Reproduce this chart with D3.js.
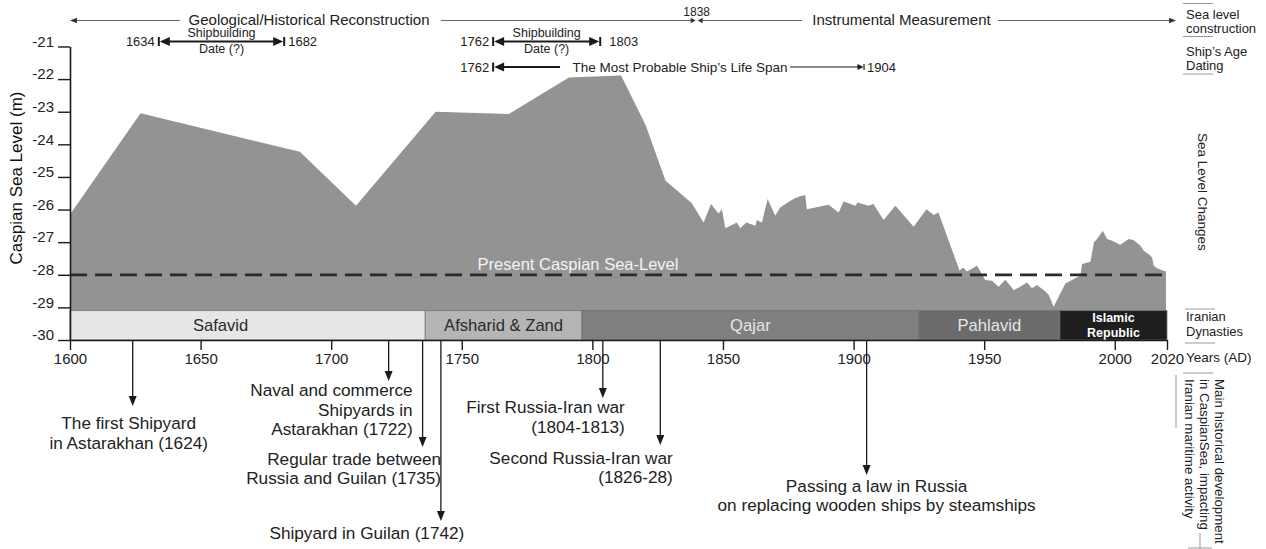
<!DOCTYPE html>
<html><head><meta charset="utf-8">
<script src="https://cdn.jsdelivr.net/npm/d3@7"></script>
<style>
body{margin:0;background:#fff}
svg{display:block;font-family:"Liberation Sans",Arial,Helvetica,sans-serif}
</style>
</head><body>
<svg id="c" width="1266" height="549"></svg>
<script>
// ---------------- DATA ----------------
const years = [1600,1627,1688,1709.5,1740,1768,1791,1811,1820.5,1828,1838,1842.6,1845.4,1848.3,1849.6,1850.9,1855.3,1856.6,1858.9,1862.4,1863,1864.9,1867.1,1870,1871.9,1874.5,1877,1878.9,1881.5,1882.1,1890.4,1894.3,1896.2,1900.7,1901.5,1905.7,1907.6,1911.5,1916,1923,1927.9,1930.7,1932.5,1940.6,1941.9,1943.4,1947.3,1950.4,1953,1955.5,1958.1,1961.3,1963.8,1966.4,1968.3,1970.2,1972.8,1974.7,1976.6,1981.1,1984.3,1986.8,1987.5,1990.7,1992,1993.2,1995.4,1997.1,1999,2002.1,2005.3,2007.2,2009.8,2011.1,2013,2014.3,2014.9,2016.2,2018.1,2019.6];
const levels = [-26.15,-23.05,-24.23,-25.88,-23.0,-23.07,-21.95,-21.89,-23.43,-25.12,-25.8,-26.4,-25.83,-26.12,-25.99,-26.57,-26.4,-26.57,-26.4,-26.5,-26.32,-26.4,-25.68,-26.19,-25.94,-25.8,-25.68,-25.61,-25.55,-25.99,-25.85,-26.09,-25.75,-25.88,-25.78,-25.88,-25.83,-26.32,-25.88,-26.53,-25.99,-26.17,-26.09,-27.88,-27.78,-27.9,-27.72,-28.16,-28.18,-28.37,-28.15,-28.47,-28.37,-28.24,-28.41,-28.31,-28.47,-28.61,-28.98,-28.27,-28.13,-28.03,-27.67,-27.6,-27.01,-26.9,-26.65,-26.9,-26.96,-27.08,-26.9,-26.93,-27.11,-27.26,-27.37,-27.47,-27.72,-27.8,-27.86,-27.9];
const presentLevel = -28;
const baseLevel = -29.1;
const yTicks = [-21,-22,-23,-24,-25,-26,-27,-28,-29,-30];
const xTicks = [1600,1650,1700,1750,1800,1850,1900,1950,2000,2020];
const dynastyNames = ["Safavid","Afsharid & Zand","Qajar","Pahlavid","Islamic Republic"];
const dynastyStart = [1600,1736,1796,1925,1979];
const dynastyEnd = [1736,1796,1925,1979,2020];
const eventYears = [1624,1722,1735,1742,1804,1826,1905];
const eventLabels = [
  ["The first Shipyard","in Astarakhan (1624)"],
  ["Naval and commerce","Shipyards in","Astarakhan (1722)"],
  ["Regular trade between","Russia and Guilan (1735)"],
  ["Shipyard in Guilan (1742)"],
  ["First Russia-Iran war","(1804-1813)"],
  ["Second Russia-Iran war","(1826-28)"],
  ["Passing a law in Russia","on replacing wooden ships by steamships"]
];
const shipbuildStart = [1634,1762];
const shipbuildEnd = [1682,1803];
const lifeSpan = [1762,1904];
const instrumentalStart = 1838;

// ---------------- STYLE / LAYOUT ----------------
const svg = d3.select("#c");
const x = d3.scaleLinear().domain([1600,2020]).range([70,1167]);
const y = d3.scaleLinear().domain([-30,-21]).range([340,46.5]);
const ink = "#1a1a1a";
const dynFill = ["#e6e6e6","#b5b5b5","#7f7f7f","#6b6b6b","#1e1e1e"];
const dynText = ["#2a2a2a","#2a2a2a","#e6e6e6","#e6e6e6","#ffffff"];

// sea level area
const seaData = years.map((yr,i)=>({yr, lv: levels[i]}));
svg.append("path").datum(seaData)
  .attr("d", d3.area().x(d=>x(d.yr)).y0(y(baseLevel)).y1(d=>y(d.lv)))
  .attr("fill","#939393");

// dynasty bar
const dyn = svg.append("g");
dynastyNames.forEach((n,i)=>{
  dyn.append("rect").attr("x",x(dynastyStart[i])).attr("y",y(baseLevel))
    .attr("width",x(dynastyEnd[i])-x(dynastyStart[i])).attr("height",y(-30)-y(baseLevel))
    .attr("fill",dynFill[i]).attr("stroke","#707070").attr("stroke-width",0.8);
});
const dynLabelShift = [-27,0,0,0,0];
const yBarMid = (y(baseLevel)+y(-30))/2;
dynastyNames.forEach((n,i)=>{
  const cx = (x(dynastyStart[i])+x(dynastyEnd[i]))/2 + dynLabelShift[i];
  if (i===4){
    const t = dyn.append("text").attr("x",cx).attr("text-anchor","middle")
      .attr("font-size",12.5).attr("font-weight","bold").attr("fill",dynText[i]);
    n.split(" ").forEach((w,k)=>t.append("tspan").attr("x",cx).attr("y",yBarMid-3+k*14.5).text(w));
  } else {
    dyn.append("text").attr("x",cx).attr("y",yBarMid+5.5).attr("text-anchor","middle")
      .attr("font-size",16.6).attr("fill",dynText[i]).text(n);
  }
});

// present sea level dashed line
svg.append("line").attr("x1",x(1600)).attr("x2",x(2020)+1).attr("y1",y(presentLevel)).attr("y2",y(presentLevel))
  .attr("stroke","#2b2b2b").attr("stroke-width",2.8).attr("stroke-dasharray","17,8");
svg.append("text").attr("x",578).attr("y",y(presentLevel)-5).attr("text-anchor","middle")
  .attr("font-size",16.5).attr("fill","#f4f4f4").text("Present Caspian Sea-Level");

// y axis
const yAxis = svg.append("g").attr("transform",`translate(${x(1600)},0)`)
  .call(d3.axisLeft(y).tickValues(yTicks).tickSize(12).tickSizeOuter(0).tickPadding(4).tickFormat(d=>String(d)));
yAxis.select(".domain").attr("stroke",ink).attr("stroke-width",1.6);
yAxis.selectAll(".tick line").attr("stroke",ink).attr("stroke-width",1.4);
yAxis.selectAll(".tick text").attr("dy","-0.02em").attr("font-size",15).attr("fill","#222")
  .attr("font-family","'Liberation Sans',Arial,sans-serif");
svg.append("text").attr("transform",`translate(22,${178}) rotate(-90)`).attr("text-anchor","middle")
  .attr("font-size",17).attr("fill","#111").text("Caspian Sea Level (m)");

// x axis
const xAxis = svg.append("g").attr("transform",`translate(0,${y(-30)})`)
  .call(d3.axisBottom(x).tickValues(xTicks).tickSize(10).tickSizeOuter(0).tickPadding(3).tickFormat(d=>String(d)));
xAxis.select(".domain").attr("stroke",ink).attr("stroke-width",1.6);
xAxis.selectAll(".tick line").attr("stroke",ink).attr("stroke-width",1.4);
xAxis.selectAll(".tick text").attr("font-size",15).attr("fill","#222")
  .attr("font-family","'Liberation Sans',Arial,sans-serif");
svg.append("text").attr("x",1186).attr("y",362).attr("font-size",13.5).attr("fill","#222").text("Years (AD)");

// arrow helpers
function tri(g, tipX, tipY, dir, len, half, fill){
  let pts;
  if (dir==='d') pts=[[tipX,tipY],[tipX-half,tipY-len],[tipX+half,tipY-len]];
  if (dir==='l') pts=[[tipX,tipY],[tipX+len,tipY-half],[tipX+len,tipY+half]];
  if (dir==='r') pts=[[tipX,tipY],[tipX-len,tipY-half],[tipX-len,tipY+half]];
  g.append("path").attr("d","M"+pts.map(p=>p.join(",")).join("L")+"Z").attr("fill",fill||ink);
}

// events (arrows below axis)
const evLayout = [
  {tip:406, anchor:"middle", dx:-4, y0:429, lh:20},
  {tip:381, anchor:"end", dx:24, y0:396, lh:19.5},
  {tip:447, anchor:"end", dx:18.5, y0:464.5, lh:19.5},
  {tip:521, anchor:"middle", dx:-74, y0:538.5, lh:20},
  {tip:398, anchor:"end", dx:22, y0:413, lh:19.5},
  {tip:445, anchor:"end", dx:12.5, y0:464, lh:19},
  {tip:475, anchor:"middle", dx:10, y0:491.5, lh:19.5}
];
const ev = svg.append("g");
eventYears.forEach((yr,i)=>{
  const L = evLayout[i], ex = x(yr);
  ev.append("line").attr("x1",ex).attr("x2",ex).attr("y1",y(-30)).attr("y2",L.tip-6)
    .attr("stroke",ink).attr("stroke-width",1.3);
  tri(ev, ex, L.tip, 'd', 10, 4);
  eventLabels[i].forEach((s,k)=>{
    ev.append("text").attr("x",ex+L.dx).attr("y",L.y0+k*L.lh).attr("text-anchor",L.anchor)
      .attr("font-size",17.2).attr("fill","#222").text(s);
  });
});

// top row: reconstruction vs instrumental
const topG = svg.append("g");
const rowY = 20.5, c1838 = x(instrumentalStart)+5;
[[x(1600)+4,180],[441,c1838-5],[c1838+5,802],[998,1170]].forEach(s=>{
  topG.append("line").attr("x1",s[0]).attr("x2",s[1]).attr("y1",rowY).attr("y2",rowY)
    .attr("stroke","#555").attr("stroke-width",0.9);
});
tri(topG, x(1600), rowY, 'l', 7, 2.8, "#333");
tri(topG, 1176, rowY, 'r', 7, 2.8, "#333");
tri(topG, c1838-1, rowY, 'r', 5, 2.8, "#333");
tri(topG, c1838+1, rowY, 'l', 5, 2.8, "#333");
topG.append("text").attr("x",309).attr("y",25).attr("text-anchor","middle").attr("font-size",15).attr("fill","#222")
  .text("Geological/Historical Reconstruction");
topG.append("text").attr("x",901.5).attr("y",25).attr("text-anchor","middle").attr("font-size",15).attr("fill","#222")
  .text("Instrumental Measurement");
topG.append("text").attr("x",c1838).attr("y",15.5).attr("text-anchor","middle").attr("font-size",12).attr("fill","#222")
  .text(String(instrumentalStart));

// shipbuilding date rows
function endBar(g,xx,yy,h,w){ g.append("line").attr("x1",xx).attr("x2",xx).attr("y1",yy-h/2).attr("y2",yy+h/2).attr("stroke",ink).attr("stroke-width",w); }
const sbY = 41.5;
shipbuildStart.forEach((s,i)=>{
  const x0 = x(s), x1 = x(shipbuildEnd[i]);
  topG.append("line").attr("x1",x0+4).attr("x2",x1-4).attr("y1",sbY).attr("y2",sbY).attr("stroke",ink).attr("stroke-width",2);
  endBar(topG,x0,sbY,9,2); endBar(topG,x1,sbY,9,2);
  tri(topG,x0+1,sbY,'l',10,4.5); tri(topG,x1-1,sbY,'r',10,4.5);
  topG.append("text").attr("x",x0-4).attr("y",sbY+4.5).attr("text-anchor","end").attr("font-size",13).attr("fill","#222").text(String(s));
  topG.append("text").attr("x",x1+4+(i?5:0)).attr("y",sbY+4.5).attr("font-size",13).attr("fill","#222").text(String(shipbuildEnd[i]));
  const cx = (x0+x1)/2;
  topG.append("text").attr("x",cx).attr("y",sbY-4.5).attr("text-anchor","middle").attr("font-size",12.5).attr("fill","#222").text("Shipbuilding");
  topG.append("text").attr("x",cx).attr("y",sbY+11.5).attr("text-anchor","middle").attr("font-size",12.5).attr("fill","#222").text("Date (?)");
});
// life span row
const lsY = 67;
const lx0 = x(lifeSpan[0]), lx1 = x(lifeSpan[1]);
topG.append("line").attr("x1",lx0+4).attr("x2",560).attr("y1",lsY).attr("y2",lsY).attr("stroke",ink).attr("stroke-width",2);
endBar(topG,lx0,lsY,9,2); tri(topG,lx0+1,lsY,'l',10,4.5);
topG.append("line").attr("x1",790).attr("x2",lx1-3).attr("y1",lsY).attr("y2",lsY).attr("stroke",ink).attr("stroke-width",1);
endBar(topG,lx1,lsY,6,1.2); tri(topG,lx1-0.5,lsY,'r',6,3);
topG.append("text").attr("x",lx0-4).attr("y",lsY+4.5).attr("text-anchor","end").attr("font-size",13).attr("fill","#222").text(String(lifeSpan[0]));
topG.append("text").attr("x",lx1+3).attr("y",lsY+4.5).attr("font-size",13).attr("fill","#222").text(String(lifeSpan[1]));
topG.append("text").attr("x",680).attr("y",lsY+4.5).attr("text-anchor","middle").attr("font-size",13.5).attr("fill","#222")
  .text("The Most Probable Ship\u2019s Life Span");

// right side labels
const rs = svg.append("g").attr("fill","#222");
const grayLine = (x1,x2,yy)=>rs.append("line").attr("x1",x1).attr("x2",x2).attr("y1",yy).attr("y2",yy).attr("stroke","#999").attr("stroke-width",1);
grayLine(1183,1213,3.5); grayLine(1183,1213,36.5); grayLine(1183,1213,74);
rs.append("text").attr("x",1186).attr("y",18.5).attr("font-size",13).text("Sea level");
rs.append("text").attr("x",1186).attr("y",33).attr("font-size",13).text("construction");
rs.append("text").attr("x",1186).attr("y",56).attr("font-size",13).text("Ship\u2019s Age");
rs.append("text").attr("x",1186).attr("y",70).attr("font-size",13).text("Dating");
rs.append("text").attr("transform","translate(1198,133) rotate(90)").attr("font-size",13.5).text("Sea Level Changes");
grayLine(1185,1215,309); grayLine(1185,1215,343);
rs.append("text").attr("x",1186).attr("y",321).attr("font-size",13).text("Iranian");
rs.append("text").attr("x",1186).attr("y",336).attr("font-size",13).text("Dynasties");
grayLine(1183,1213,373);
rs.append("line").attr("x1",1176).attr("x2",1176).attr("y1",375).attr("y2",428).attr("stroke","#999");
grayLine(1188,1212,548);
rs.append("line").attr("x1",1200).attr("x2",1200).attr("y1",533).attr("y2",548).attr("stroke","#999");
["Main historical development","in CaspianSea, impacting","Iranian maritime activity"].forEach((s,k)=>{
  rs.append("text").attr("transform",`translate(${1215-k*15},379) rotate(90)`).attr("font-size",13.3).text(s);
});
</script>
</body></html>
